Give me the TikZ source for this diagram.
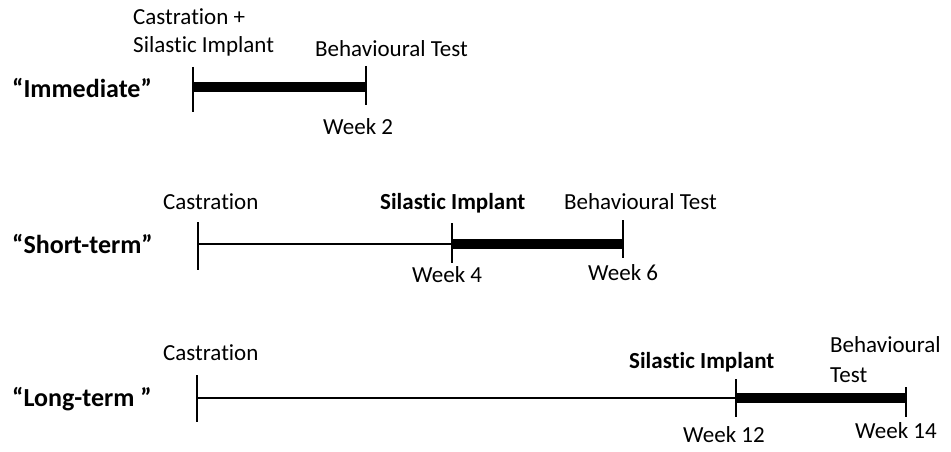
\documentclass[tikz,border=0pt]{standalone}
\usepackage{fontspec}
\setmainfont{Carlito}[Ligatures={NoCommon}]
\begin{document}
\begin{tikzpicture}[x=1pt,y=-1pt,
  lbl/.style={anchor=base west,inner sep=0pt,font=\fontsize{23}{27}\selectfont},
  blbl/.style={anchor=base west,inner sep=0pt,font=\fontsize{23}{27}\selectfont\bfseries},
  rowlbl/.style={anchor=base west,inner sep=0pt,font=\fontsize{26}{30}\selectfont\bfseries},
  tick/.style={line width=2pt},
  thin/.style={line width=2pt},
  bar/.style={line width=10.5pt}]
\useasboundingbox (0,0) rectangle (951,452);
% ---------- Row 1: Immediate ----------
\node[rowlbl] (r1) at (12,97) {“Immediate”};
\node[lbl] (r1c) at (133,25) {Castration +};
\node[lbl] (r1s) at (133,53) {Silastic Implant};
\node[lbl] (r1b) at (315,57) {Behavioural Test};
\node[lbl] (r1w) at (323,135) {Week 2};
\coordinate (a1t) at (193,67); \coordinate (a1b) at (193,112);
\coordinate (a2t) at (366,66); \coordinate (a2b) at (366,105);
\coordinate (a1) at (193,87); \coordinate (a2) at (366,87);
\draw[tick] (a1t) -- (a1b);
\draw[tick] (a2t) -- (a2b);
\draw[bar] (a1) -- (a2);
% ---------- Row 2: Short-term ----------
\node[rowlbl] (r2) at (12,253) {“Short-term”};
\node[lbl] (r2c) at (163,209) {Castration};
\node[blbl] (r2s) at (380,209) {Silastic Implant};
\node[lbl] (r2b) at (564,209) {Behavioural Test};
\node[lbl] (r2w4) at (412,282) {Week 4};
\node[lbl] (r2w6) at (588,280) {Week 6};
\coordinate (b1t) at (198,222); \coordinate (b1b) at (198,270);
\coordinate (b2t) at (452,223); \coordinate (b2b) at (452,263);
\coordinate (b3t) at (623,220); \coordinate (b3b) at (623,258);
\coordinate (b1) at (198,244); \coordinate (b2) at (452,244); \coordinate (b3) at (623,244);
\draw[tick] (b1t) -- (b1b);
\draw[tick] (b2t) -- (b2b);
\draw[tick] (b3t) -- (b3b);
\draw[thin] (b1) -- (b2);
\draw[bar] (b2) -- (b3);
% ---------- Row 3: Long-term ----------
\node[rowlbl] (r3) at (12,406) {“Long-term ”};
\node[lbl] (r3c) at (163,360) {Castration};
\node[blbl] (r3s) at (629,368) {Silastic Implant};
\node[lbl] (r3b1) at (830,352) {Behavioural};
\node[lbl] (r3b2) at (830,382) {Test};
\node[lbl] (r3w12) at (683,442) {Week 12};
\node[lbl] (r3w14) at (855,438) {Week 14};
\coordinate (c1t) at (197,375); \coordinate (c1b) at (197,422);
\coordinate (c2t) at (736,379); \coordinate (c2b) at (736,417);
\coordinate (c3t) at (906,387); \coordinate (c3b) at (906,417);
\coordinate (c1) at (197,398); \coordinate (c2) at (736,398); \coordinate (c3) at (906,398);
\draw[tick] (c1t) -- (c1b);
\draw[tick] (c2t) -- (c2b);
\draw[tick] (c3t) -- (c3b);
\draw[thin] (c1) -- (c2);
\draw[bar] (c2) -- (c3);
\end{tikzpicture}
\end{document}
